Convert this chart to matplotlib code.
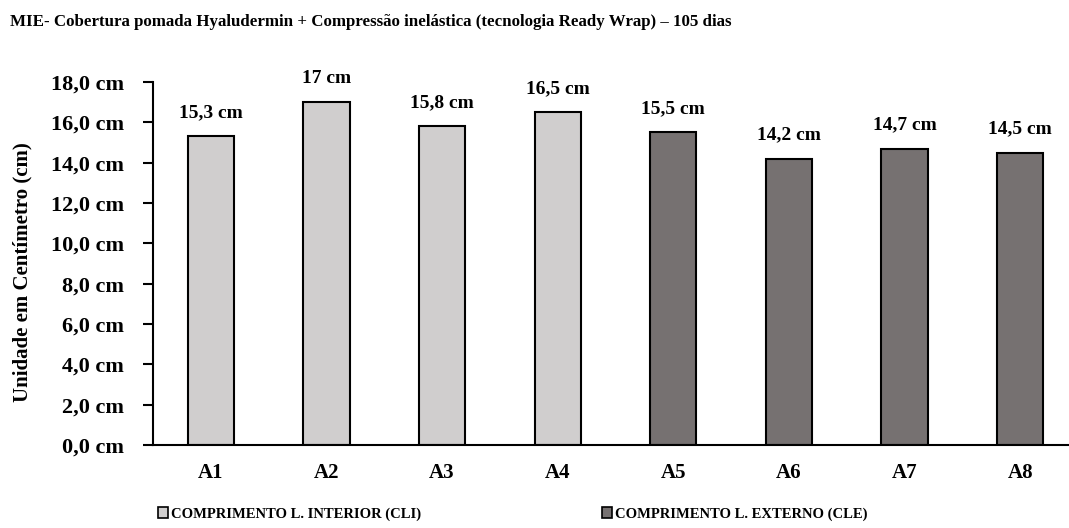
"""MIE bar chart: inner vs outer length per assessment."""
import matplotlib.pyplot as plt
from matplotlib.patches import Patch

plt.rcParams["font.family"] = ["Liberation Serif", "DejaVu Serif"]

categories = ["A1", "A2", "A3", "A4", "A5", "A6", "A7", "A8"]
values = [15.3, 17.0, 15.8, 16.5, 15.5, 14.2, 14.7, 14.5]
labels = ["15,3 cm", "17 cm", "15,8 cm", "16,5 cm", "15,5 cm", "14,2 cm", "14,7 cm", "14,5 cm"]
series = ["CLI", "CLI", "CLI", "CLI", "CLE", "CLE", "CLE", "CLE"]
yticks = [0, 2, 4, 6, 8, 10, 12, 14, 16, 18]

colors = {"CLI": "#D0CECE", "CLE": "#767171"}
legend_names = {"CLI": "COMPRIMENTO L. INTERIOR (CLI)", "CLE": "COMPRIMENTO L. EXTERNO (CLE)"}

W, H = 1069, 528
fig = plt.figure(figsize=(W / 100, H / 100), dpi=100)
ax = fig.add_axes([153 / W, 1 - 445 / H, 925 / W, 363 / H])

x = list(range(len(categories)))
ax.bar(x, values, width=0.4, color=[colors[s] for s in series],
       edgecolor="black", linewidth=1.5)

for xi, v, lab in zip(x, values, labels):
    ax.annotate(lab, (xi, v), xytext=(0, 11), textcoords="offset points",
                ha="center", va="bottom", fontsize=14, fontweight="bold")

ax.set_xlim(-0.5, len(categories) - 0.5)
ax.set_ylim(0, 18)
ax.set_yticks(yticks)
ax.set_yticklabels([f"{t:.1f}".replace(".", ",") + " cm" for t in yticks],
                   fontsize=16, fontweight="bold")
ax.set_xticks(x)
ax.set_xticklabels(categories, fontsize=15, fontweight="bold")
ax.tick_params(axis="x", length=0, pad=13)
ax.tick_params(axis="y", length=7, width=1.5, pad=14)
for side in ("top", "right"):
    ax.spines[side].set_visible(False)
for side in ("left", "bottom"):
    ax.spines[side].set_linewidth(1.5)

fig.text(22 / W, 1 - 272 / H, "Unidade em Centímetro (cm)", rotation=90,
         ha="center", va="center", fontsize=15, fontweight="bold")
fig.text(10 / W, 1 - 22 / H,
         "MIE- Cobertura pomada Hyaludermin + Compressão inelástica (tecnologia Ready Wrap) – 105 dias",
         ha="left", va="center", fontsize=12.2, fontweight="bold")

handles = [Patch(facecolor=colors[k], edgecolor="black", linewidth=1.2) for k in ("CLI", "CLE")]
fig.legend(handles, [legend_names[k] for k in ("CLI", "CLE")], ncol=2,
           loc="center left", bbox_to_anchor=(145 / W, 1 - 514 / H), frameon=False,
           prop={"size": 10.5, "weight": "bold"}, handlelength=0.7, handleheight=0.7,
           handletextpad=0.2, columnspacing=12.4)

fig.savefig("out.png", dpi=100)
